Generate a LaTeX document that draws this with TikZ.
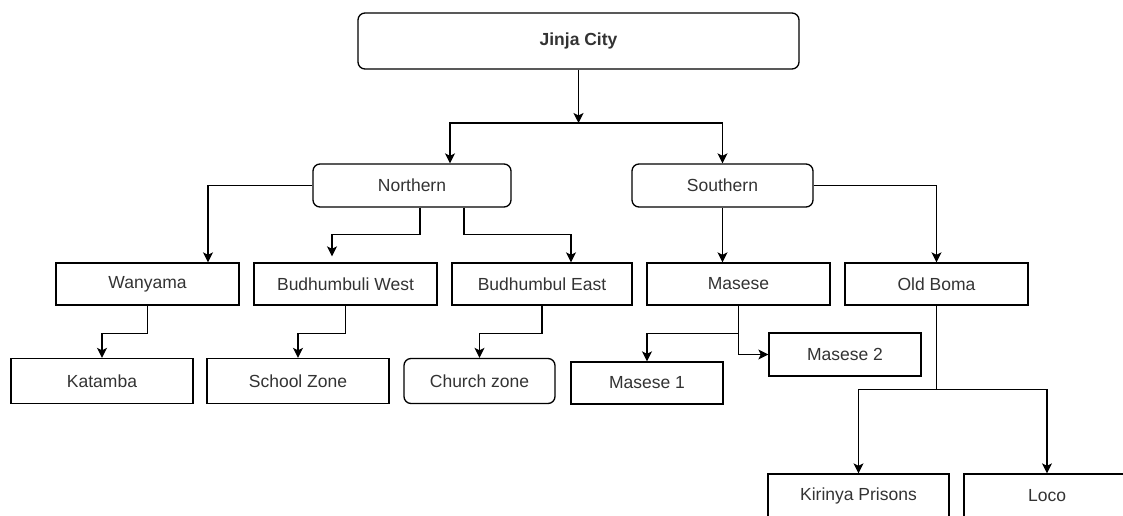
\documentclass[tikz,border=0pt]{standalone}
\usepackage{fontspec}
\setmainfont{Liberation Sans}
\usetikzlibrary{arrows.meta}
\tikzset{
  area/.style={draw=black, line width=1.3pt, rounded corners=7pt, inner sep=0pt, align=center, text=black!80, font=\fontsize{17.5}{21}\selectfont},
  place/.style={draw=black, line width=1.3pt, inner sep=0pt, align=center, text=black!80, font=\fontsize{17.5}{21}\selectfont},
  flow/.style={-{Stealth[length=10pt,width=10pt,inset=2.5pt]}, line width=1.3pt, draw=black},
  link/.style={line width=1.3pt, draw=black}
}
\begin{document}
\begin{tikzpicture}[x=1pt, y=-1pt]
  \path[use as bounding box, fill=white] (0,0) rectangle (1123,516);

  \node[area, minimum width=441pt, minimum height=56pt, font=\fontsize{17.5}{21}\selectfont\bfseries] (jinja) at (578.5,41) {Jinja City};
  \node[area, minimum width=198pt, minimum height=43pt] (northern) at (412,185.5) {Northern};
  \node[area, minimum width=181pt, minimum height=43pt] (southern) at (722.5,185.5) {Southern};

  \node[place, minimum width=183pt, minimum height=42pt] (wanyama) at (147.5,284) {Wanyama};
  \node[place, minimum width=183pt, minimum height=42pt] (bwest) at (345.5,284) {Budhumbuli West};
  \node[place, minimum width=180pt, minimum height=42pt] (beast) at (542,284) {Budhumbul East};
  \node[place, minimum width=183pt, minimum height=42pt] (masese) at (738.5,284) {Masese};
  \node[place, minimum width=183pt, minimum height=42pt] (oldboma) at (936.5,284) {Old Boma};

  \node[place, minimum width=182pt, minimum height=45pt] (katamba) at (102,381) {Katamba};
  \node[place, minimum width=182pt, minimum height=45pt] (school) at (298,381) {School Zone};
  \node[area, minimum width=151pt, minimum height=45pt] (church) at (479.5,381) {Church zone};
  \node[place, minimum width=152pt, minimum height=42pt] (masese1) at (647,383) {Masese 1};
  \node[place, minimum width=152pt, minimum height=43pt] (masese2) at (845,354.5) {Masese 2};
  \node[place, minimum width=181pt, minimum height=43pt] (kirinya) at (858.5,495.5) {Kirinya Prisons};
  \node[place, minimum width=166pt, minimum height=43pt] (loco) at (1047,495.5) {Loco};

  \coordinate (hub) at (578.5,123);
  \draw[flow] (jinja) -- (hub);
  \draw[flow] (hub) -| ([xshift=38pt]northern.north);
  \draw[flow] (hub) -| (southern.north);

  \draw[flow] (northern.west) -| ([xshift=60.5pt]wanyama.north);
  \draw[flow] ([xshift=8pt]northern.south) -- ++(0,27) -| ([xshift=-13.5pt,yshift=6pt]bwest.north);
  \draw[flow] ([xshift=52pt]northern.south) -- ++(0,27) -| ([xshift=29pt]beast.north);
  \draw[flow] (southern.south) -- (southern.south |- masese.north);
  \draw[flow] (southern.east) -| (oldboma.north);

  \draw[flow] (wanyama.south) -- ++(0,28) -| (katamba.north);
  \draw[flow] (bwest.south) -- ++(0,28) -| (school.north);
  \draw[flow] (beast.south) -- ++(0,28) -| (church.north);
  \draw[flow] (masese.south) -- ++(0,28) coordinate (msplit) -| (masese1.north);
  \draw[flow] (msplit) |- (masese2.west);
  \draw[link] (oldboma.south) -- ++(0,84) coordinate (bsplit);
  \draw[flow] (bsplit) -| (kirinya.north);
  \draw[flow] (bsplit) -| (loco.north);
\end{tikzpicture}
\end{document}
